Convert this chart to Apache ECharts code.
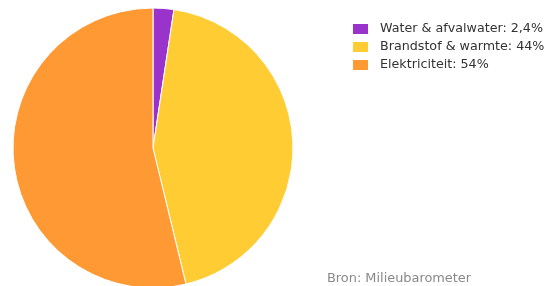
<!DOCTYPE html>
<html><head><meta charset="utf-8">
<script src="https://cdn.jsdelivr.net/npm/echarts@6/dist/echarts.min.js"></script>
<style>html,body{margin:0;padding:0;background:#fff}#c{width:554px;height:286px}</style>
</head><body><div id="c"></div>
<script>
const categories = ["Water & afvalwater", "Brandstof & warmte", "Elektriciteit"];
const values = [2.4, 44, 54];
const valueLabels = ["2,4%", "44%", "54%"];
const colors = ["#9933cc", "#ffcc33", "#ff9933"];
const sourceText = "Bron: Milieubarometer";

const FONT = "'DejaVu Sans', sans-serif";
const chart = echarts.init(document.getElementById('c'), null, {renderer: 'canvas'});
chart.setOption({
  animation: false,
  color: colors,
  legend: {
    orient: 'vertical', left: 346, top: 17,
    itemWidth: 17, itemHeight: 12, itemGap: 4,
    icon: 'rect',
    textStyle: {fontFamily: FONT, fontSize: 12.7, lineHeight: 12, color: '#333', padding: [0, 0, 0, 6]},
    formatter: name => name + ': ' + valueLabels[categories.indexOf(name)],
    data: categories
  },
  graphic: [{type: 'text', left: 327, top: 272, style: {text: sourceText, fontFamily: FONT, fontSize: 12.9, fill: '#888'}}],
  series: [{
    type: 'pie', center: [153, 148], radius: 140, startAngle: 90, clockwise: true,
    label: {show: false}, labelLine: {show: false},
    itemStyle: {borderColor: '#fff', borderWidth: 1},
    data: categories.map((c, i) => ({name: c, value: values[i]}))
  }]
});
</script></body></html>
